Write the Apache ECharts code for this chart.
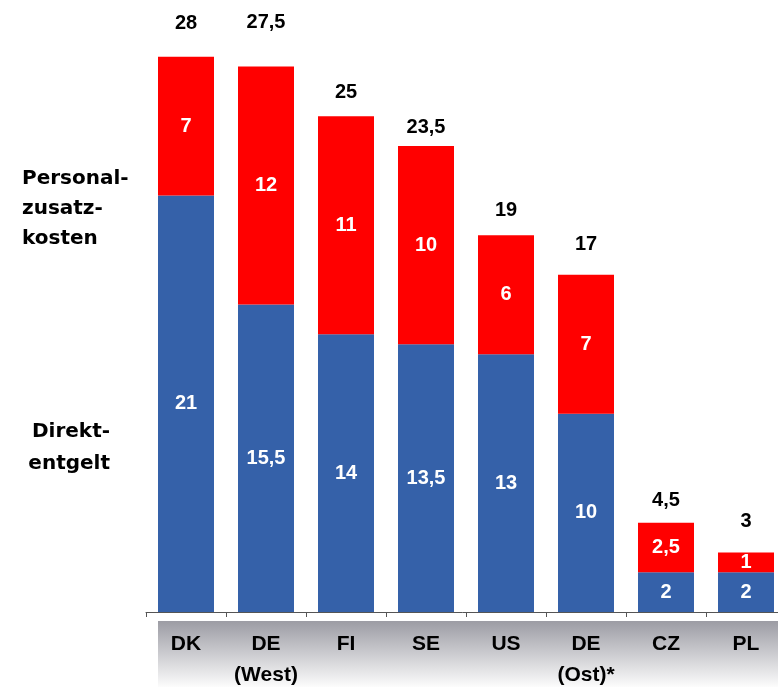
<!DOCTYPE html>
<html>
<head>
<meta charset="utf-8">
<script src="https://cdn.jsdelivr.net/npm/echarts@6/dist/echarts.min.js"></script>
<style>
  html, body { margin: 0; padding: 0; background: #fff; }
  #chart { width: 778px; height: 687px; }
</style>
</head>
<body>
<div id="chart"></div>
<script>
// Arbeitskosten je Stunde: Direktentgelt + Personalzusatzkosten
const categories = ['DK', 'DE\n(West)', 'FI', 'SE', 'US', 'DE\n(Ost)*', 'CZ', 'PL'];
const direktentgelt = [21, 15.5, 14, 13.5, 13, 10, 2, 2];
const zusatzkosten = [7, 12, 11, 10, 6, 7, 2.5, 1];
const totals = direktentgelt.map((v, i) => v + zusatzkosten[i]);

// spacing (px) between each bar top and its total label
const totalLabelDistance = [23, 34, 13, 8, 14, 20, 12, 21];

const fmt = v => String(v).replace('.', ',');

const chart = echarts.init(document.getElementById('chart'), null, { renderer: 'canvas' });

const innerLabel = {
  show: true,
  position: 'inside',
  color: '#ffffff',
  fontFamily: 'Liberation Sans, Arial, sans-serif',
  fontWeight: 'bold',
  fontSize: 20,
  formatter: p => fmt(p.value)
};

const totalLabel = d => ({
  show: true,
  position: 'top',
  distance: d,
  color: '#000000',
  fontFamily: 'Liberation Sans, Arial, sans-serif',
  fontWeight: 'bold',
  fontSize: 20,
  formatter: p => fmt(p.value)
});

chart.setOption({
  animation: false,
  backgroundColor: '#ffffff',
  grid: {
    left: 146, top: 17, width: 640, bottom: 75,
    containLabel: false,
    outerBoundsMode: 'none'
  },
  xAxis: {
    type: 'category',
    data: categories,
    boundaryGap: true,
    axisLine: { show: true, lineStyle: { color: '#555555', width: 1 } },
    axisTick: { show: true, length: 5, lineStyle: { color: '#555555', width: 1 } },
    axisLabel: {
      color: '#000000',
      fontFamily: 'Liberation Sans, Arial, sans-serif',
      fontWeight: 'bold',
      fontSize: 21,
      lineHeight: 31,
      margin: 17,
      interval: 0
    },
    splitLine: { show: false }
  },
  yAxis: {
    type: 'value',
    min: 0,
    max: 30,
    show: false,
    splitLine: { show: false }
  },
  graphic: [
    {
      // shaded band behind the category names, grey at the top fading to white
      type: 'rect',
      z: -1,
      silent: true,
      shape: { x: 158, y: 621, width: 640, height: 66 },
      style: {
        fill: {
          type: 'linear',
          x: 0, y: 0, x2: 0, y2: 1,
          colorStops: [
            { offset: 0, color: '#9c9ca4' },
            { offset: 1, color: '#fcfcfc' }
          ]
        }
      }
    },
    {
      type: 'text',
      silent: true,
      x: 22,
      y: 164,
      style: {
        text: 'Personal-\nzusatz-\nkosten',
        font: 'bold 20px "DejaVu Sans", sans-serif',
        fill: '#000000',
        lineHeight: 30,
        align: 'left',
        verticalAlign: 'top'
      }
    },
    {
      type: 'text',
      silent: true,
      x: 110,
      y: 416,
      style: {
        text: 'Direkt-\nentgelt',
        font: 'bold 20px "DejaVu Sans", sans-serif',
        fill: '#000000',
        lineHeight: 32,
        align: 'right',
        verticalAlign: 'top'
      }
    }
  ],
  series: [
    {
      name: 'Direktentgelt',
      type: 'bar',
      stack: 'kosten',
      barWidth: 56,
      data: direktentgelt,
      itemStyle: { color: '#3561a9' },
      label: innerLabel
    },
    {
      name: 'Personalzusatzkosten',
      type: 'bar',
      stack: 'kosten',
      barWidth: 56,
      data: zusatzkosten,
      itemStyle: { color: '#ff0000' },
      label: innerLabel
    },
    {
      name: 'Gesamt',
      type: 'scatter',
      symbolSize: 1,
      itemStyle: { color: 'rgba(0,0,0,0)', opacity: 1 },
      data: totals.map((v, i) => ({
        value: v,
        label: totalLabel(totalLabelDistance[i])
      })),
      z: 5
    }
  ]
});
</script>
</body>
</html>
